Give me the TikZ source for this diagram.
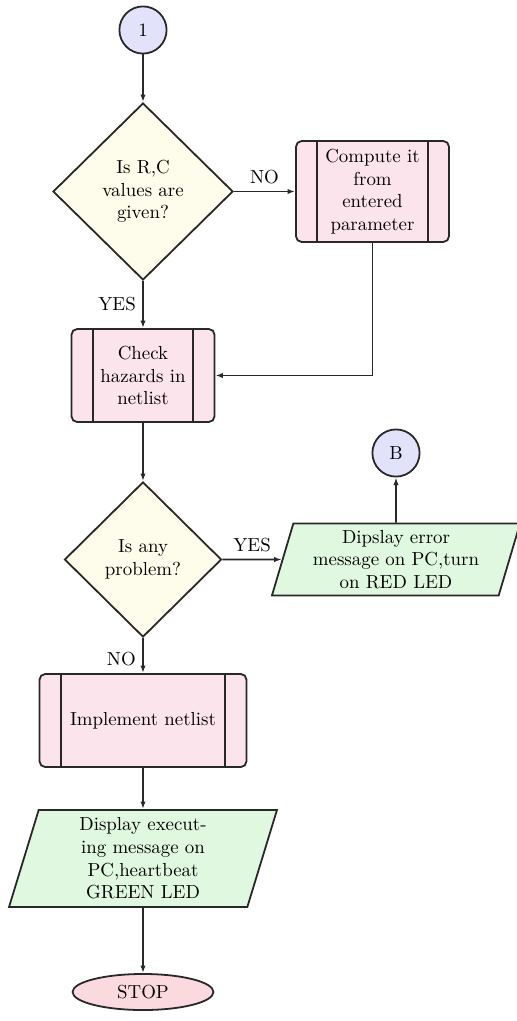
\documentclass[tikz,border=0pt]{standalone}
\usetikzlibrary{shapes.geometric,arrows.meta}

\definecolor{connfill}{RGB}{226,226,250}
\definecolor{decfill}{RGB}{254,252,234}
\definecolor{procfill}{RGB}{251,228,236}
\definecolor{iofill}{RGB}{224,247,224}
\definecolor{endfill}{RGB}{250,218,222}
\definecolor{edgecol}{RGB}{40,40,40}

\begin{document}
\begin{tikzpicture}[x=0.53pt,y=-0.53pt,
  base/.style={draw=edgecol, line width=0.95pt, align=center, inner sep=0pt},
  conn/.style={base, circle, fill=connfill, minimum size=25pt},
  decision/.style={base, diamond, fill=decfill},
  procbox/.style={base, rectangle, rounded corners=3pt, fill=procfill},
  iobox/.style={base, trapezium, trapezium left angle=70, trapezium right angle=110,
                trapezium stretches body, fill=iofill},
  endnode/.style={base, ellipse, fill=endfill},
  flow/.style={draw=edgecol, line width=0.95pt, -{Latex[length=4pt,width=2.8pt]}},
  barline/.style={draw=edgecol, line width=0.95pt}]

\useasboundingbox (0,0) rectangle (516,1021);

% nodes
\node[conn] (start) at (143,30) {1};
\node[decision, minimum width=95.4pt, minimum height=93.8pt] (rc) at (143,191.5)
  {Is R,C\\values are\\given?};
\node[procbox, minimum width=81.1pt, minimum height=53.5pt] (comp) at (372.5,191.5)
  {Compute it\\from\\entered\\parameter};
\node[procbox, minimum width=75.8pt, minimum height=49.3pt] (chk) at (143,375.5)
  {Check\\hazards in\\netlist};
\node[decision, minimum width=83.2pt, minimum height=82.2pt] (prob) at (143,559.5)
  {Is any\\problem?};
\node[iobox, minimum width=131.5pt, minimum height=38.2pt] (err) at (396,559.5)
  {Dipslay error\\message on PC,turn\\on RED LED};
\node[conn] (B) at (396,453) {B};
\node[procbox, minimum width=109.7pt, minimum height=49.3pt] (impl) at (143,720.5)
  {Implement netlist};
\node[iobox, minimum width=142pt, minimum height=51.4pt] (exec) at (143,858.5)
  {Display execut-\\ing message on\\PC,heartbeat\\GREEN LED};
\node[endnode, minimum width=74.7pt, minimum height=19.1pt] (stop) at (143,992)
  {STOP};

% vertical bars of the predefined-process boxes
\foreach \n/\o in {comp/11.7pt, chk/11.7pt, impl/12pt} {
  \draw[barline] ([xshift=\o]\n.north west) -- ([xshift=\o]\n.south west);
  \draw[barline] ([xshift=-\o]\n.north east) -- ([xshift=-\o]\n.south east);
}

% connectors
\draw[flow] (start) -- (rc);
\draw[flow] (rc.east) -- node[above] {NO} (comp.west);
\draw[flow] (rc.south) -- node[left] {YES} (chk.north);
\draw[flow] (comp.south) |- (chk.east);
\draw[flow] (chk.south) -- (prob.north);
\draw[flow] (prob.east) -- node[above] {YES} (err.west);
\draw[flow] (err.north) -- (B.south);
\draw[flow] (prob.south) -- node[left, pos=0.6] {NO} (impl.north);
\draw[flow] (impl.south) -- (exec.north);
\draw[flow] (exec.south) -- (stop.north);

\end{tikzpicture}
\end{document}
